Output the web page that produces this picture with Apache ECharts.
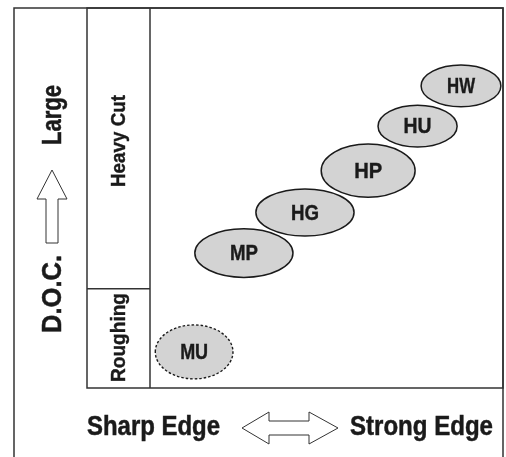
<!DOCTYPE html>
<html>
<head>
<meta charset="utf-8">
<script src="https://cdn.jsdelivr.net/npm/echarts@6/dist/echarts.min.js"></script>
<style>html,body{margin:0;padding:0;background:#fff}#c{width:506px;height:457px}</style>
</head>
<body>
<div id="c"></div>
<script>
// Tool grades (categories) and their position on the Edge (x) / D.O.C. (y) map, 0-100 scale
const grades   = ['MU', 'MP', 'HG', 'HP', 'HU', 'HW'];
const usage    = ['Roughing', 'Heavy Cut', 'Heavy Cut', 'Heavy Cut', 'Heavy Cut', 'Heavy Cut'];
const edgeX    = [12.5, 26.6, 43.9, 61.8, 75.8, 88.1];   // ellipse centre, edge strength
const docY     = [9.5, 35.5, 46.2, 57.2, 68.9, 79.5];    // ellipse centre, depth of cut
const spreadX  = [11.0, 13.9, 13.9, 13.3, 11.2, 11.3];   // half-width of range
const spreadY  = [7.1, 6.4, 6.2, 7.0, 5.5, 5.5];         // half-height of range
const bandLabels = ['Roughing', 'Heavy Cut'];
const bandSplit  = 26.1;  // D.O.C. value where Roughing ends
const axisTexts  = { left: 'Sharp Edge', right: 'Strong Edge', doc: 'D.O.C.', large: 'Large' };

const FONT = '"Liberation Sans", Arial, Helvetica, sans-serif';
const mctx = document.createElement('canvas').getContext('2d');
function fitScale(text, size, target) {
  mctx.font = 'bold ' + size + 'px ' + FONT;
  return target / mctx.measureText(text).width;
}
function label(text, x, y, size, target, rot, thick) {
  return {
    type: 'text', x: x, y: y, rotation: rot || 0,
    scaleX: fitScale(text, size, target),
    style: { text: text, fontSize: size, fontWeight: 'bold', fontFamily: FONT, fill: '#1a1a1a',
             stroke: '#1a1a1a', lineWidth: thick || 0.5,
             align: 'center', verticalAlign: 'middle' },
    z: 10
  };
}

const chart = echarts.init(document.getElementById('c'), null, { renderer: 'canvas' });

const G = { left: 150, top: 8, width: 353, height: 380 };
const splitPx = G.top + G.height * (1 - bandSplit / 100);
const lineCol = '#333';

const data = grades.map((g, i) => [edgeX[i], docY[i], spreadX[i], spreadY[i], g, usage[i]]);

const graphics = [
  // outer frame (open at bottom)
  { type: 'polyline', shape: { points: [[14, 457], [14, 8], [503, 8], [503, 457]] },
    style: { stroke: lineCol, lineWidth: 1.5, fill: null } },
  // inner box
  { type: 'rect', shape: { x: 87, y: 8, width: 416, height: 380 },
    style: { stroke: lineCol, lineWidth: 1.5, fill: null } },
  { type: 'line', shape: { x1: 150, y1: 8, x2: 150, y2: 388 }, style: { stroke: lineCol, lineWidth: 1.5 } },
  { type: 'line', shape: { x1: 87, y1: splitPx, x2: 150, y2: splitPx }, style: { stroke: lineCol, lineWidth: 1.5 } },
  // band labels
  label(bandLabels[1], 119, 141, 21, 92, Math.PI / 2, 0.4),
  label(bandLabels[0], 119, 337.5, 21, 89, Math.PI / 2, 0.4),
  // D.O.C. axis
  label(axisTexts.large, 53, 115, 28, 60, Math.PI / 2),
  label(axisTexts.doc, 53, 294, 28, 78, Math.PI / 2),
  { type: 'polygon', shape: { points: [[46, 243], [46, 199], [37, 199], [52, 170], [67, 199], [58, 199], [58, 243]] },
    style: { fill: '#fff', stroke: '#333', lineWidth: 1 } },
  // edge axis
  label(axisTexts.left, 153.5, 428, 27, 133),
  label(axisTexts.right, 421.5, 428, 27, 143),
  { type: 'polygon', shape: { points: [[242, 428], [269, 412], [269, 421], [309, 421], [309, 412], [338, 428],
                                       [309, 444], [309, 435], [269, 435], [269, 444]] },
    style: { fill: '#fff', stroke: '#333', lineWidth: 1 } }
];

chart.setOption({
  animation: false,
  grid: { left: G.left, top: G.top, width: G.width, height: G.height, show: false },
  xAxis: { type: 'value', min: 0, max: 100, show: false },
  yAxis: { type: 'value', min: 0, max: 100, show: false },
  graphic: graphics,
  series: [{
    type: 'custom',
    clip: false,
    data: data,
    renderItem: function (params, api) {
      const c = api.coord([api.value(0), api.value(1)]);
      const s = api.size([api.value(2), api.value(3)]);
      const name = data[params.dataIndex][4];
      const rough = data[params.dataIndex][5] === 'Roughing';
      return {
        type: 'group',
        children: [
          { type: 'ellipse', shape: { cx: c[0], cy: c[1], rx: s[0], ry: s[1] },
            style: { fill: '#d3d3d3', stroke: '#1a1a1a', lineWidth: rough ? 1.4 : 1.5,
                     lineDash: rough ? [2.5, 2] : null } },
          { type: 'text', x: c[0], y: c[1] + 1, scaleX: fitScale(name, 22, 28),
            style: { text: name, fontSize: 22, fontWeight: 'bold', fontFamily: FONT, fill: '#1a1a1a',
                     stroke: '#1a1a1a', lineWidth: 0.4,
                     align: 'center', verticalAlign: 'middle' } }
        ]
      };
    }
  }]
});
</script>
</body>
</html>
